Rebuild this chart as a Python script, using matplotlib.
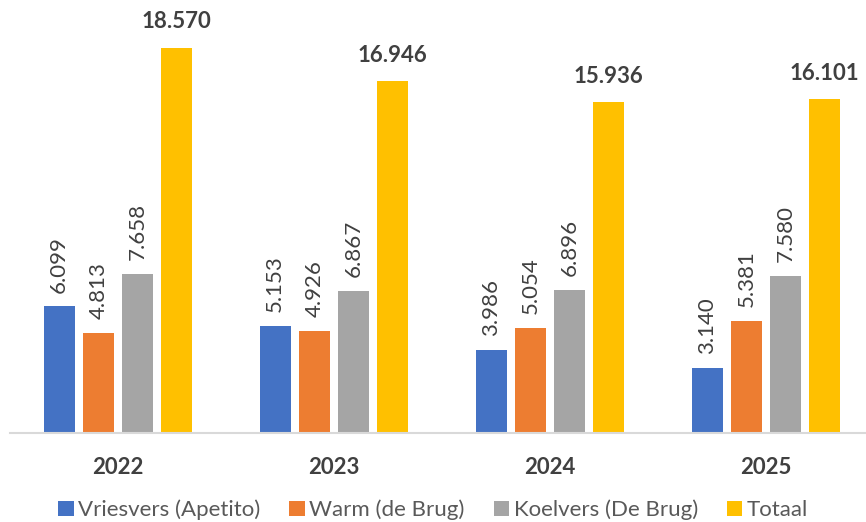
import matplotlib
matplotlib.use("Agg")
import matplotlib.pyplot as plt
import numpy as np

plt.rcParams['font.family'] = ['Lato', 'DejaVu Sans']

years = ['2022', '2023', '2024', '2025']
series_names = ['Vriesvers (Apetito)', 'Warm (de Brug)', 'Koelvers (De Brug)', 'Totaal']
vriesvers = [6.099, 5.153, 3.986, 3.140]
warm = [4.813, 4.926, 5.054, 5.381]
koelvers = [7.658, 6.867, 6.896, 7.580]
totaal = [18.570, 16.946, 15.936, 16.101]
colors = ['#4472C4', '#ED7D31', '#A5A5A5', '#FFC000']

fig = plt.figure(figsize=(8.66, 5.22), dpi=100)
ax = fig.add_axes([10/866, 89/522, 864/866, (433-18)/522])

x = np.arange(len(years))
step = 0.1815
width = 0.143
all_series = [vriesvers, warm, koelvers, totaal]
for i, (vals, name, col) in enumerate(zip(all_series, series_names, colors)):
    xs = x + (i - 1.5) * step
    ax.bar(xs, vals, width, color=col, label=name)
    for xi, v in zip(xs, vals):
        txt = f"{v:.3f}"
        if i < 3:
            ax.annotate(txt, (xi, v), xytext=(0, 10), textcoords='offset points',
                        ha='center', va='bottom', rotation=90, fontsize=16,
                        color='#404040', annotation_clip=False)
        else:
            ax.annotate(txt, (xi, v), xytext=(0, 11), textcoords='offset points',
                        ha='center', va='bottom', fontsize=16, fontweight='bold',
                        color='#404040', annotation_clip=False)

ax.set_xlim(-0.5, 3.5)
ax.set_ylim(0, 20)
ax.set_xticks(x)
ax.set_xticklabels(years, fontsize=16, fontweight='bold', color='#404040')
ax.tick_params(axis='x', length=0, pad=17)
ax.set_yticks([])
for s in ['top', 'right', 'left']:
    ax.spines[s].set_visible(False)
ax.spines['bottom'].set_color('#d9d9d9')
ax.spines['bottom'].set_linewidth(1.5)

leg = fig.legend(loc='center', bbox_to_anchor=(0.5, 1 - 510/522), ncol=4, frameon=False,
                 fontsize=16, handlelength=0.7, handleheight=0.7, handletextpad=0.2,
                 columnspacing=1.3)
for t in leg.get_texts():
    t.set_color('#595959')

fig.savefig('out.png', dpi=100)
